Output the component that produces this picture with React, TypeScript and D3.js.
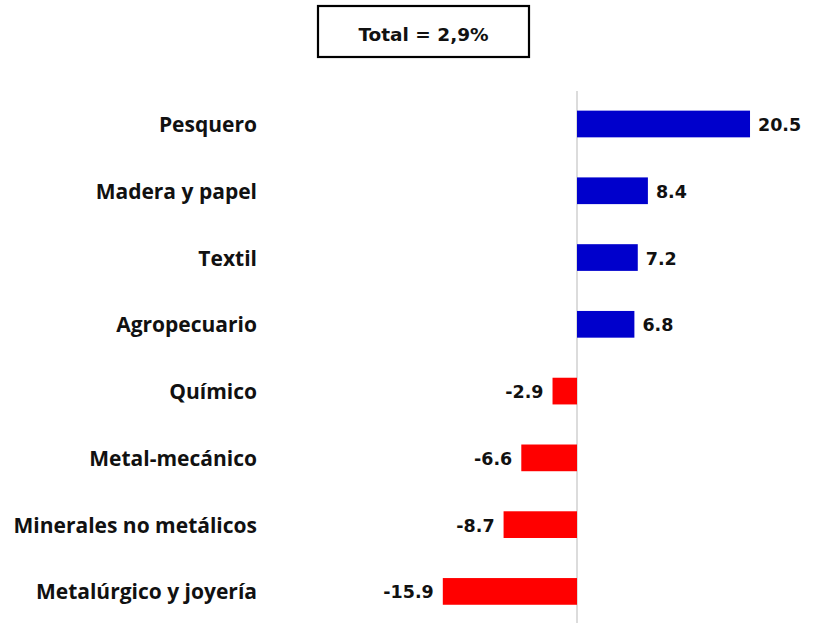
import React from "react";
import * as d3 from "d3";

const categories = [
  "Pesquero",
  "Madera y papel",
  "Textil",
  "Agropecuario",
  "Químico",
  "Metal-mecánico",
  "Minerales no metálicos",
  "Metalúrgico y joyería",
];
const values = [20.5, 8.4, 7.2, 6.8, -2.9, -6.6, -8.7, -15.9];
const totalLabel = "Total = 2,9%";

const W = 814;
const H = 623;

export default function App() {
  const x = d3.scaleLinear().domain([-20, 25]).range([408.2, 788]);
  const y = d3
    .scaleBand<string>()
    .domain(categories)
    .range([90.6, 624.8])
    .paddingInner(0.6)
    .paddingOuter(0.3);
  const bw = y.bandwidth();
  const labelFont = "'Open Sans', Lato, sans-serif";
  const valueFont = "'DejaVu Sans', Verdana, sans-serif";

  return (
    <div style={{ position: "absolute", left: 0, top: 0 }}>
      <svg width={W} height={H} style={{ display: "block", background: "#fff" }}>
        {/* Total box */}
        <rect x={318} y={6} width={211} height={51} fill="#fff" stroke="#000" strokeWidth={2.2} />
        <text
          x={423.5}
          y={34}
          textAnchor="middle"
          dominantBaseline="central"
          fontFamily={valueFont}
          fontWeight={700}
          fontSize={18.5}
          fill="#111"
        >
          {totalLabel}
        </text>

        {/* zero axis */}
        <line x1={x(0)} x2={x(0)} y1={91} y2={H} stroke="#d0d0d0" strokeWidth={1.5} />

        {categories.map((c, i) => {
          const v = values[i];
          const y0 = y(c)!;
          const cy = y0 + bw / 2;
          const x0 = Math.min(x(0), x(v));
          const w = Math.abs(x(v) - x(0));
          return (
            <g key={c}>
              <rect x={x0} y={y0} width={w} height={bw} fill={v >= 0 ? "#0000CC" : "#FF0000"} />
              <text
                x={257}
                y={cy}
                textAnchor="end"
                dominantBaseline="central"
                fontFamily={labelFont}
                fontWeight={700}
                fontSize={21}
                fill="#111"
              >
                {c}
              </text>
              <text
                x={v >= 0 ? x(v) + 8 : x(v) - 9}
                y={cy + 1}
                textAnchor={v >= 0 ? "start" : "end"}
                dominantBaseline="central"
                fontFamily={valueFont}
                fontWeight={700}
                fontSize={17.5}
                fill="#111"
              >
                {v.toFixed(1)}
              </text>
            </g>
          );
        })}
      </svg>
    </div>
  );
}
